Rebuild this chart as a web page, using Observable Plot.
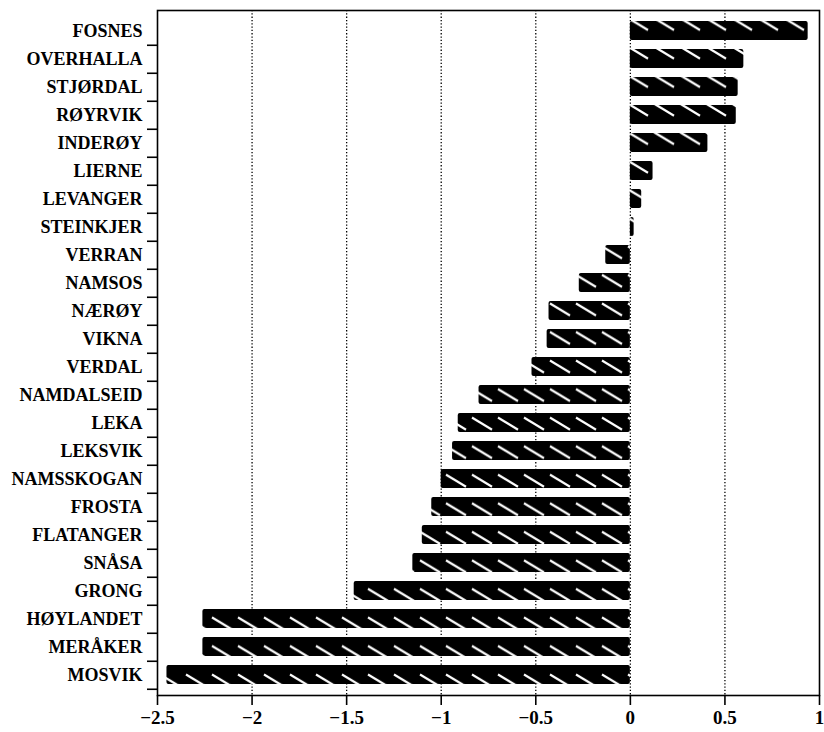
<!DOCTYPE html>
<html><head><meta charset="utf-8">
<script src="https://cdn.jsdelivr.net/npm/d3@7"></script>
<script src="https://cdn.jsdelivr.net/npm/@observablehq/plot@0.6"></script>
<style>body{margin:0;background:#fff}</style>
</head><body><div id="chart"></div>
<script>
const kommuner = ["FOSNES","OVERHALLA","STJØRDAL","RØYRVIK","INDERØY","LIERNE","LEVANGER","STEINKJER","VERRAN","NAMSOS","NÆRØY","VIKNA","VERDAL","NAMDALSEID","LEKA","LEKSVIK","NAMSSKOGAN","FROSTA","FLATANGER","SNÅSA","GRONG","HØYLANDET","MERÅKER","MOSVIK"];
const verdier = [0.94,0.60,0.57,0.56,0.41,0.12,0.06,0.02,-0.13,-0.27,-0.43,-0.44,-0.52,-0.80,-0.91,-0.94,-1.00,-1.05,-1.10,-1.15,-1.46,-2.26,-2.26,-2.45];
const xTicks = [-2.5,-2,-1.5,-1,-0.5,0,0.5,1];
const gridTicks = [-2,-1.5,-1,-0.5,0,0.5];

const data = kommuner.map((k, i) => ({kommune: k, verdi: verdier[i]}));

const W = 824, H = 732, mT = 10, mB = 37, mL = 157, mR = 5;
const pIn = 0.32, pOut = pIn / 2;
const step = (H - mT - mB) / (kommuner.length - pIn + 2 * pOut);
const font = "'Liberation Serif', 'DejaVu Serif', serif";
const fmt = d => (d < 0 ? "\u2212" : "") + Math.abs(d);

const plot = Plot.plot({
  width: W, height: H,
  marginLeft: mL, marginRight: mR, marginTop: mT, marginBottom: mB,
  style: {fontFamily: font, fontWeight: "bold", fontSize: "18px", background: "white", color: "black"},
  x: {domain: [-2.5, 1], label: null},
  y: {domain: kommuner, paddingInner: pIn, paddingOuter: pOut, label: null},
  marks: [
    Plot.ruleX(gridTicks, {stroke: "black", strokeWidth: 1.3, strokeDasharray: "1.3,2"}),
    Plot.barX(data, {x: "verdi", y: "kommune", fill: "url(#hatch)", rx: 2}),
    Plot.frame({stroke: "black", strokeWidth: 1.6}),
    Plot.axisX(xTicks, {tickSize: 10, tickPadding: 5, strokeWidth: 1.6, tickFormat: fmt, fontSize: 19, label: null}),
    Plot.axisY({tickSize: 0, tickPadding: 15, label: null}),
    Plot.axisY({tickSize: 10, tickFormat: () => "", dy: step / 2, strokeWidth: 1.6, label: null})
  ]
});

const svg = d3.select(plot);
const defs = svg.insert("defs", ":first-child");
const pat = defs.append("pattern")
  .attr("id", "hatch")
  .attr("patternUnits", "userSpaceOnUse")
  .attr("x", mL)
  .attr("y", mT + step * pOut)
  .attr("width", 26)
  .attr("height", step);
pat.append("rect").attr("width", 26).attr("height", step).attr("fill", "black");
pat.append("line")
  .attr("x1", 3).attr("y1", 3.5).attr("x2", 23).attr("y2", 15.5)
  .attr("stroke", "white").attr("stroke-width", 2.2);

document.getElementById("chart").appendChild(plot);
</script>
</body></html>
